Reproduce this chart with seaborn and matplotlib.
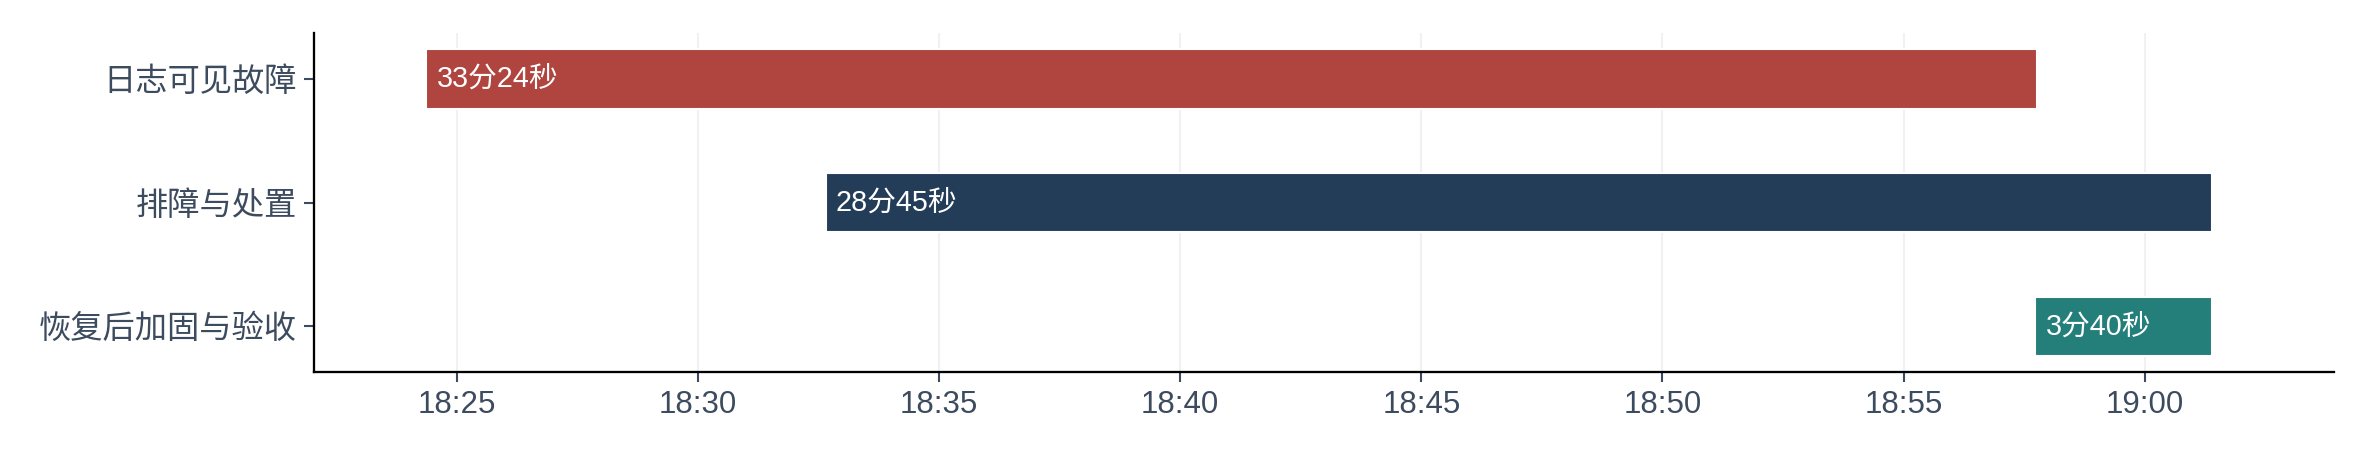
import pandas as pd
import seaborn as sns
import matplotlib
matplotlib.use('Agg')
import matplotlib.pyplot as plt
import matplotlib.dates as mdates

# Phases of the incident timeline
phases = ['日志可见故障', '排障与处置', '恢复后加固与验收']
start_times = ['18:24:22', '18:32:39', '18:57:44']
end_times = ['18:57:46', '19:01:24', '19:01:24']
duration_labels = ['33分24秒', '28分45秒', '3分40秒']
bar_colors = ['#B0443F', '#233D59', '#247F7A']

df = pd.DataFrame({
    'phase': phases,
    'start': pd.to_datetime(['2024-01-01 ' + t for t in start_times]),
    'end': pd.to_datetime(['2024-01-01 ' + t for t in end_times]),
    'label': duration_labels,
})
df['start_num'] = mdates.date2num(df['start'])
df['width'] = mdates.date2num(df['end']) - df['start_num']

sns.set_theme(style='white')
plt.rcParams['font.family'] = ['Liberation Sans', 'Noto Sans CJK SC', 'DejaVu Sans']

fig = plt.figure(figsize=(15.79, 3.067), dpi=150)
ax = fig.add_axes([0.1327, 0.191, 0.8526, 0.7366])

ypos = range(len(df))
ax.barh(ypos, df['width'], left=df['start_num'], height=0.48,
        color=bar_colors, zorder=3)

for y, row in zip(ypos, df.itertuples()):
    ax.annotate(row.label, (row.start_num, y), xytext=(5, 0),
                textcoords='offset points', va='center', ha='left',
                color='white', fontsize=13.8, zorder=4)

ax.set_yticks(list(ypos))
ax.set_yticklabels(phases, fontsize=15.5)
ax.set_ylim(2.37, -0.37)

xmin = mdates.date2num(pd.Timestamp('2024-01-01 18:22:03'))
xmax = mdates.date2num(pd.Timestamp('2024-01-01 19:03:55'))
ax.set_xlim(xmin, xmax)
ax.xaxis.set_major_locator(mdates.MinuteLocator(byminute=range(0, 60, 5)))
ax.xaxis.set_major_formatter(mdates.DateFormatter('%H:%M'))

ax.grid(axis='x', color='#f1f1f1', linewidth=1, zorder=0)
ax.grid(axis='y', visible=False)
sns.despine(ax=ax)
for side in ['left', 'bottom']:
    ax.spines[side].set_color('black')
    ax.spines[side].set_linewidth(1.1)

ax.tick_params(axis='both', which='major', length=5, width=1,
               color='#3d4b5f', labelcolor='#3d4b5f',
               left=True, bottom=True)
ax.tick_params(axis='x', labelsize=15)
ax.set_xlabel('')
ax.set_ylabel('')

fig.savefig('out.png', dpi=150)
